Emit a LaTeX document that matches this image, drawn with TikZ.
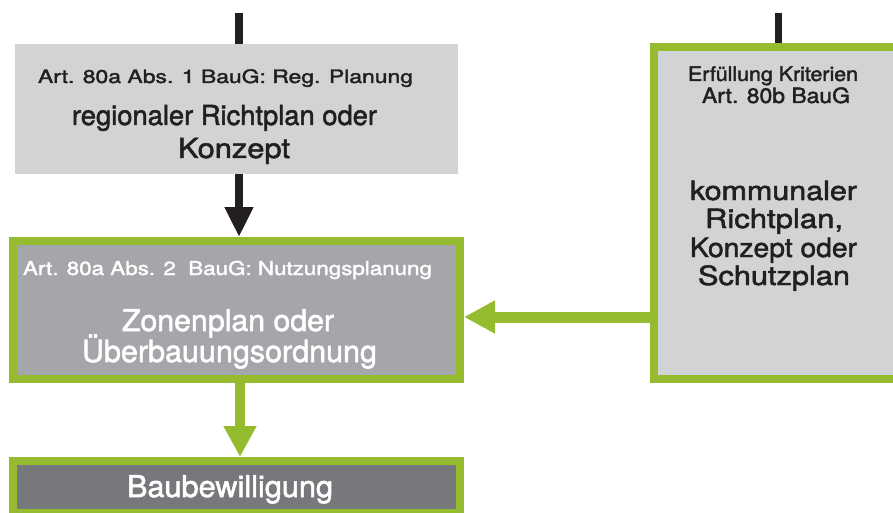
\documentclass[tikz,border=0pt]{standalone}
\usepackage{fontspec}
\usepackage{graphicx}
\setmainfont{TeX Gyre Heros}[FakeBold=1.8]
\usetikzlibrary{arrows.meta}
\definecolor{lgray}{RGB}{210,211,213}
\definecolor{mgray}{RGB}{165,166,170}
\definecolor{dgray}{RGB}{119,120,123}
\definecolor{bgreen}{RGB}{149,187,46}
\definecolor{ink}{RGB}{35,31,32}
% #1 target width (pt), #2 font size (pt), #3 text
\newcommand\fitline[3]{\resizebox{#1pt}{\height}{\fontsize{#2}{#2}\selectfont #3}}
\tikzset{
  lbox/.style={rectangle, fill=lgray, inner sep=0pt},
  gbox/.style={rectangle, draw=bgreen, line width=8pt, inner sep=0pt},
  txt/.style={anchor=base, inner sep=0pt},
  blkline/.style={draw=ink, line width=8pt},
  blkarrow/.style={draw=ink, line width=8pt, -{Triangle[width=27pt,length=30pt]}},
  grnarrow/.style={draw=bgreen, line width=#1, -{Triangle[width=31pt,length=31pt]}},
}
\begin{document}
\begin{tikzpicture}[x=1pt,y=-1pt]
\useasboundingbox (0,0) rectangle (893,513);
% boxes
\node[lbox, minimum width=443pt, minimum height=130pt] (b1) at (236.5,109) {};
\node[gbox, fill=mgray, minimum width=447pt, minimum height=138pt] (b2) at (236.5,310) {};
\node[gbox, fill=dgray, minimum width=447pt, minimum height=52pt] (b3) at (236.5,487) {};
\node[gbox, fill=lgray, minimum width=251pt, minimum height=331pt] (rb) at (779.5,213) {};
% texts box 1
\node[txt, text=ink] (t1a) at (225.5,83) {\fitline{375}{18.5}{Art. 80a Abs. 1 BauG: Reg. Planung}};
\node[txt, text=ink] (t1b) at (224.5,125) {\fitline{305}{27.5}{regionaler Richtplan oder}};
\node[txt, text=ink] (t1c) at (234,158) {\fitline{112}{27.5}{Konzept}};
% texts box 2
\node[txt, text=white] (t2a) at (227.5,275) {\fitline{409}{19}{Art. 80a Abs. 2\ \ BauG: Nutzungsplanung}};
\node[txt, text=white] (t2b) at (228,331) {\fitline{212}{30}{Zonenplan oder}};
\node[txt, text=white] (t2c) at (229.5,362) {\fitline{295}{30.5}{Überbauungsordnung}};
% text box 3
\node[txt, text=white] (t3) at (230,497) {\fitline{206}{30}{Baubewilligung}};
% texts right box
\node[txt, text=ink] (r1) at (773,81) {\fitline{170}{20}{Erfüllung Kriterien}};
\node[txt, text=ink] (r2) at (776,103) {\fitline{148}{21}{Art. 80b BauG}};
\node[txt, text=ink] (r3) at (773.5,200) {\fitline{167}{26.5}{kommunaler}};
\node[txt, text=ink] (r4) at (774,228) {\fitline{138}{26.5}{Richtplan,}};
\node[txt, text=ink] (r5) at (773.5,257) {\fitline{167}{26.5}{Konzept oder}};
\node[txt, text=ink] (r6) at (774,285) {\fitline{152}{26.5}{Schutzplan}};
% connectors
\coordinate (c1) at (239,13);
\coordinate (c2) at (778,13);
\coordinate (gx) at (240,0);
\coordinate (hy) at (0,317);
\draw[blkline] (c1) -- (c1 |- b1.north);
\draw[blkline, line width=7pt] (c2) -- (c2 |- rb.north);
\draw[blkarrow] (b1.south -| c1) -- (b2.north -| c1);
\draw[grnarrow=10pt] (b2.south -| gx) -- (b3.north -| gx);
\draw[grnarrow=11pt] (rb.west |- hy) -- (b2.east |- hy);
\end{tikzpicture}
\end{document}
